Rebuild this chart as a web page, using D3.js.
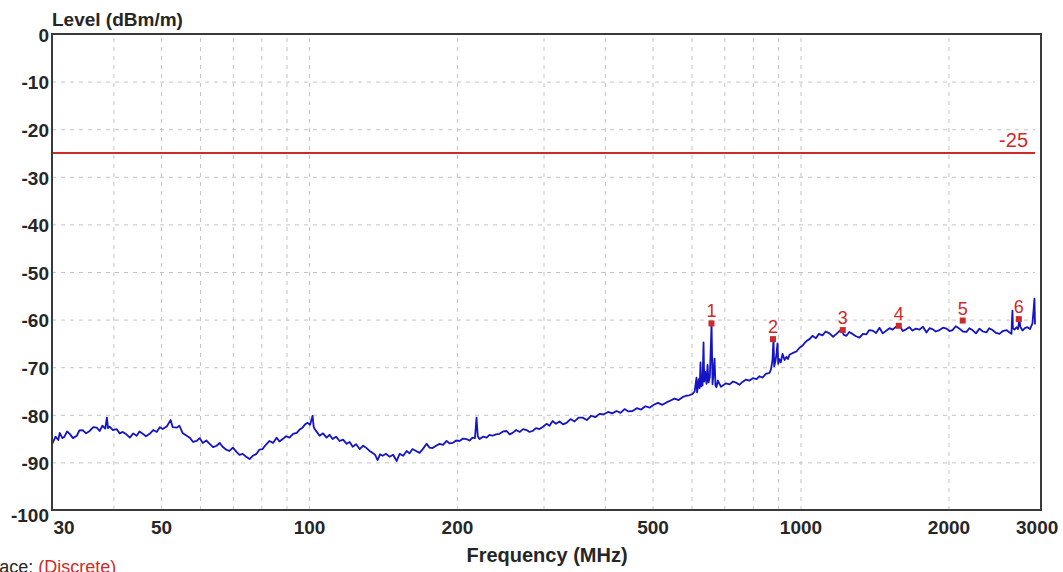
<!DOCTYPE html>
<html>
<head>
<meta charset="utf-8">
<script src="https://cdn.jsdelivr.net/npm/d3@7"></script>
<style>
  body { margin: 0; background: #fff; }
  svg { display: block; font-family: Arial, "Liberation Sans", sans-serif; }
  .grid line { stroke: #c4c4c4; stroke-width: 1; stroke-dasharray: 4,5; }
  .grid path { display: none; }
  .ticks path { display: none; }
  .ticks text { font-weight: bold; font-size: 19px; fill: #262626; }
</style>
</head>
<body>
<main></main>
<script>
// EMI scan, radiated level vs frequency (log axis)

let width = 1063,
    height = 572;

let plotLeft = 52, plotRight = 1035, frameRight = 1041,
    plotTop = 34, plotBottom = 510;

// Axis ticks
let yTickValues = [0, -10, -20, -30, -40, -50, -60, -70, -80, -90, -100];
let xTickLabels = [30, 50, 100, 200, 500, 1000, 2000, 3000];
let xGridValues = [40, 50, 60, 70, 80, 90, 100, 200, 300, 400, 500, 600, 700, 800, 900, 1000, 2000];
let yGridValues = [-10, -20, -30, -40, -50, -60, -70, -80, -90];

// Limit line
let limitLevel = -25;

// Trace (MHz)
let traceFreq = [
  30.0, 30.5, 30.9, 31.1, 31.5, 31.8, 32.2, 32.6, 33.1, 33.7, 34.1, 34.6, 35.2, 35.8, 36.4, 37.0,
  37.5, 38.0, 38.5, 38.8, 39.0, 39.3, 39.9, 40.6, 41.2, 41.8, 42.5, 43.2, 43.9, 44.6, 45.2, 45.9,
  46.6, 47.4, 48.2, 49.0, 49.7, 50.4, 51.4, 52.3, 52.8, 53.8, 54.5, 55.3, 56.2, 57.2, 58.1, 59.1,
  59.9, 60.8, 61.8, 62.8, 63.8, 64.9, 65.8, 66.7, 67.8, 68.9, 70.0, 71.2, 72.2, 73.3, 74.5, 75.7,
  76.9, 78.2, 79.3, 80.4, 81.7, 83.1, 84.5, 85.9, 87.1, 88.4, 89.8, 91.3, 92.8, 94.4, 95.7, 97.0,
  98.2, 99.4, 100.5, 101.7, 102.2, 102.7, 103.9, 105.1, 106.8, 108.6, 110.1, 111.7, 113.5, 115.4, 117.3, 119.3,
  121.0, 122.7, 124.7, 126.8, 128.9, 131.0, 132.8, 134.7, 136.3, 137.9, 139.5, 141.2, 143.5, 145.9, 148.3, 150.8,
  152.9, 155.5, 158.0, 160.2, 162.4, 165.1, 167.9, 170.7, 173.5, 175.9, 178.4, 181.4, 184.4, 187.4, 190.5, 193.2,
  196.0, 199.2, 202.5, 205.8, 209.2, 212.2, 215.2, 217.6, 219.2, 220.5, 222.3, 226.0, 229.8, 233.0, 236.3, 240.2,
  244.2, 248.3, 252.4, 256.0, 259.6, 263.9, 268.2, 272.6, 277.1, 281.0, 285.0, 289.7, 294.5, 299.3, 304.3, 308.6,
  313.0, 318.0, 323.5, 328.8, 334.2, 340.5, 347.0, 353.5, 360.2, 367.5, 375.0, 382.5, 390.0, 398.0, 406.0, 414.0,
  422.5, 430.5, 438.5, 446.5, 455.3, 464.5, 474.0, 483.5, 493.0, 503.0, 513.0, 523.5, 533.9, 544.0, 554.5, 565.0,
  575.4, 585.0, 594.0, 603.0, 609.0, 614.4, 616.0, 617.3, 621.0, 623.5, 626.0, 628.5, 632.0, 634.9, 637.0, 640.0,
  643.9, 647.0, 650.0, 654.0, 659.2, 662.2, 665.0, 668.5, 671.5, 674.7, 679.0, 684.3, 689.0, 694.0, 705.0, 717.2,
  729.0, 741.1, 751.0, 762.2, 775.0, 787.6, 800.0, 813.9, 825.0, 837.0, 850.0, 865.0, 871.0, 877.0, 881.2, 884.0,
  889.5, 894.0, 897.9, 901.0, 906.3, 912.0, 919.2, 928.0, 936.5, 943.0, 949.7, 965.0, 981.4, 995.3, 1009.4, 1020.0,
  1028.5, 1043.0, 1057.8, 1075.0, 1090.0, 1108.6, 1125.0, 1145.5, 1165.0, 1183.6, 1200.0, 1211.7, 1225.0, 1240.4, 1257.0, 1275.7,
  1297.0, 1318.3, 1340.0, 1362.4, 1380.0, 1401.2, 1425.0, 1447.8, 1470.0, 1496.0, 1518.0, 1538.7, 1565.0, 1590.1, 1615.0, 1643.1,
  1665.0, 1689.9, 1718.0, 1746.3, 1775.0, 1804.4, 1830.0, 1855.8, 1885.0, 1917.9, 1950.0, 1981.7, 2010.0, 2038.2, 2070.0, 2106.1,
  2140.0, 2176.4, 2205.0, 2238.4, 2275.0, 2312.9, 2350.0, 2389.9, 2420.0, 2458.0, 2500.0, 2540.1, 2580.0, 2624.6, 2655.0, 2686.8,
  2692.0, 2699.5, 2705.0, 2725.0, 2750.6, 2770.0, 2789.5, 2800.0, 2829.0, 2860.0, 2896.1, 2930.0, 2964.5, 2980.0, 2992.3, 3000.0
];

// dBm/m
let traceLevel = [
  -86.2, -84.6, -85.3, -83.8, -84.9, -84.6, -83.5, -84.0, -84.9, -84.4, -83.3, -83.2, -83.9, -83.4, -82.6, -82.7,
  -83.4, -82.3, -82.9, -80.6, -82.8, -82.5, -83.2, -83.0, -83.9, -83.6, -84.1, -84.8, -83.9, -84.4, -83.5, -84.0,
  -84.5, -84.0, -83.2, -83.6, -82.6, -83.0, -82.4, -81.1, -82.6, -82.7, -82.3, -83.8, -84.3, -84.8, -85.7, -85.5,
  -84.9, -85.9, -85.4, -86.1, -86.8, -86.5, -85.9, -86.7, -87.3, -87.6, -86.9, -87.8, -88.4, -88.2, -88.8, -89.3,
  -88.6, -88.2, -87.3, -87.2, -86.3, -85.5, -85.9, -84.8, -85.6, -85.1, -84.5, -84.8, -84.0, -83.8, -83.1, -82.7,
  -82.0, -81.7, -82.1, -80.2, -82.5, -83.0, -83.7, -84.4, -83.9, -84.8, -84.2, -85.1, -84.6, -85.5, -85.2, -86.1,
  -85.7, -86.7, -86.2, -87.2, -86.5, -87.0, -87.6, -88.0, -88.4, -89.5, -88.3, -88.6, -88.2, -88.8, -88.4, -89.7,
  -88.2, -88.6, -87.6, -88.1, -87.2, -87.6, -88.0, -87.1, -86.1, -86.9, -87.0, -86.5, -86.1, -86.3, -85.5, -86.0,
  -85.9, -85.4, -85.5, -85.0, -85.1, -85.4, -84.8, -84.9, -80.6, -84.5, -85.1, -84.6, -84.8, -84.2, -84.4, -84.1,
  -84.0, -83.5, -83.4, -84.1, -83.8, -83.2, -83.6, -83.0, -83.2, -83.6, -83.4, -82.8, -83.0, -82.5, -81.9, -82.3,
  -81.3, -81.9, -81.4, -82.0, -81.7, -80.9, -81.4, -80.6, -80.6, -81.1, -80.2, -80.5, -79.8, -79.9, -79.4, -79.7,
  -79.2, -79.6, -78.8, -79.3, -79.2, -78.6, -78.9, -78.2, -78.5, -77.9, -77.5, -77.9, -77.4, -77.0, -76.6, -76.9,
  -76.3, -76.0, -75.9, -75.6, -75.1, -72.2, -75.3, -74.7, -72.5, -74.4, -69.0, -74.0, -73.8, -64.8, -73.0, -71.0,
  -73.5, -69.5, -73.2, -72.0, -60.8, -73.6, -71.5, -68.2, -73.9, -74.2, -72.8, -73.5, -74.1, -73.9, -73.4, -73.6,
  -73.0, -73.3, -73.7, -73.1, -72.6, -72.8, -72.3, -72.5, -71.9, -72.2, -71.4, -71.2, -70.4, -68.5, -64.0, -69.8,
  -68.7, -67.0, -65.0, -69.3, -68.3, -69.0, -67.2, -68.5, -67.8, -68.3, -67.4, -67.0, -66.7, -65.9, -65.5, -64.9,
  -64.5, -64.1, -63.4, -63.9, -63.0, -63.3, -62.5, -62.9, -63.6, -63.0, -62.4, -62.1, -63.2, -63.4, -62.6, -63.0,
  -63.5, -63.8, -63.0, -63.1, -62.2, -62.3, -62.8, -61.7, -62.9, -62.3, -61.8, -62.1, -61.5, -61.3, -62.4, -62.0,
  -61.6, -62.3, -61.9, -62.1, -61.5, -62.7, -61.8, -62.0, -62.5, -62.2, -61.7, -61.9, -62.4, -62.2, -61.4, -61.9,
  -62.5, -62.6, -61.8, -62.2, -62.9, -61.9, -62.5, -62.7, -61.8, -62.2, -62.8, -63.0, -62.4, -62.2, -62.6, -63.0,
  -60.5, -58.1, -61.8, -62.1, -61.6, -62.0, -59.9, -61.5, -62.3, -61.8, -61.6, -62.0, -60.8, -58.0, -55.6, -61.0
];

// Peak markers
let markerIds = ["1", "2", "3", "4", "5", "6"];
let markerFreq = [659, 879, 1219, 1585, 2138, 2781];
let markerLevel = [-60.8, -64.1, -62.2, -61.3, -60.2, -59.9];

let red = "#cf2a2a";
let traceBlue = "#1414c4";

let svg = d3.select("main").append("svg")
  .attr("width", width)
  .attr("height", height);

let x = d3.scaleLog().domain([30, 3000]).range([plotLeft, plotRight]);
let y = d3.scaleLinear().domain([-100, 0]).range([plotBottom, plotTop]);

// Grid
svg.append("g")
  .attr("class", "grid")
  .attr("transform", `translate(0,${plotBottom})`)
  .call(d3.axisBottom(x).tickValues(xGridValues).tickSize(-(plotBottom - plotTop)).tickFormat(""));

svg.append("g")
  .attr("class", "grid")
  .attr("transform", `translate(${plotLeft},0)`)
  .call(d3.axisLeft(y).tickValues(yGridValues).tickSize(-(plotRight - plotLeft)).tickFormat(""));

// Limit line
svg.append("line")
  .attr("x1", x(30)).attr("x2", x(3000))
  .attr("y1", y(limitLevel)).attr("y2", y(limitLevel))
  .attr("stroke", red)
  .attr("stroke-width", 2);

svg.append("text")
  .attr("x", plotRight - 7)
  .attr("y", y(limitLevel) - 6)
  .attr("text-anchor", "end")
  .attr("fill", red)
  .attr("font-size", 20)
  .text(String(limitLevel));

// Trace
let trace = traceFreq.map((f, i) => [f, traceLevel[i]]);
let line = d3.line().x(d => x(d[0])).y(d => y(d[1]));

svg.append("path")
  .datum(trace)
  .attr("d", line)
  .attr("fill", "none")
  .attr("stroke", traceBlue)
  .attr("stroke-width", 1.8)
  .attr("stroke-linejoin", "round");

// Markers
let markers = svg.append("g").selectAll("g")
  .data(markerIds.map((id, i) => ({ id: id, f: markerFreq[i], v: markerLevel[i] })))
  .enter()
  .append("g");

markers.append("rect")
  .attr("x", d => x(d.f) - 3)
  .attr("y", d => y(d.v) - 3)
  .attr("width", 6)
  .attr("height", 6)
  .attr("fill", red);

markers.append("text")
  .attr("x", d => x(d.f))
  .attr("y", d => y(d.v) - 6)
  .attr("text-anchor", "middle")
  .attr("fill", red)
  .attr("font-size", 18)
  .text(d => d.id);

// Frame
svg.append("rect")
  .attr("x", plotLeft)
  .attr("y", plotTop)
  .attr("width", frameRight - plotLeft)
  .attr("height", plotBottom - plotTop)
  .attr("fill", "none")
  .attr("stroke", "#3a3a3a")
  .attr("stroke-width", 2);

// Axes labels (plain hyphen minus, like the instrument software)
let yAxis = svg.append("g")
  .attr("class", "ticks")
  .attr("transform", `translate(${plotLeft - 3},0)`)
  .call(d3.axisLeft(y).tickValues(yTickValues).tickSize(0).tickPadding(0).tickFormat(d => String(d)));

yAxis.selectAll("text")
  .attr("font-size", 20)
  .attr("dy", d => d == -100 ? "0.6em" : "0.38em");

let xAxis = svg.append("g")
  .attr("class", "ticks")
  .attr("transform", `translate(0,${plotBottom})`)
  .call(d3.axisBottom(x).tickValues(xTickLabels).tickSize(0).tickPadding(11).tickFormat(d => String(d)));

xAxis.selectAll("text")
  .attr("text-anchor", d => d == 30 ? "start" : (d == 3000 ? "end" : "middle"))
  .attr("dx", d => d == 30 ? "1px" : (d == 3000 ? "1.2em" : 0));

svg.append("text")
  .attr("x", plotLeft)
  .attr("y", 26)
  .attr("font-weight", "bold")
  .attr("font-size", 19)
  .attr("fill", "#262626")
  .text("Level (dBm/m)");

svg.append("text")
  .attr("x", 547)
  .attr("y", 562)
  .attr("text-anchor", "middle")
  .attr("font-weight", "bold")
  .attr("font-size", 20)
  .attr("fill", "#262626")
  .text("Frequency (MHz)");

let traceNote = svg.append("text")
  .attr("x", -17)
  .attr("y", 573)
  .attr("font-size", 18)
  .attr("fill", "#262626");

traceNote.append("tspan").text("Trace: ");
traceNote.append("tspan").attr("fill", red).text("(Discrete)");
</script>
</body>
</html>
